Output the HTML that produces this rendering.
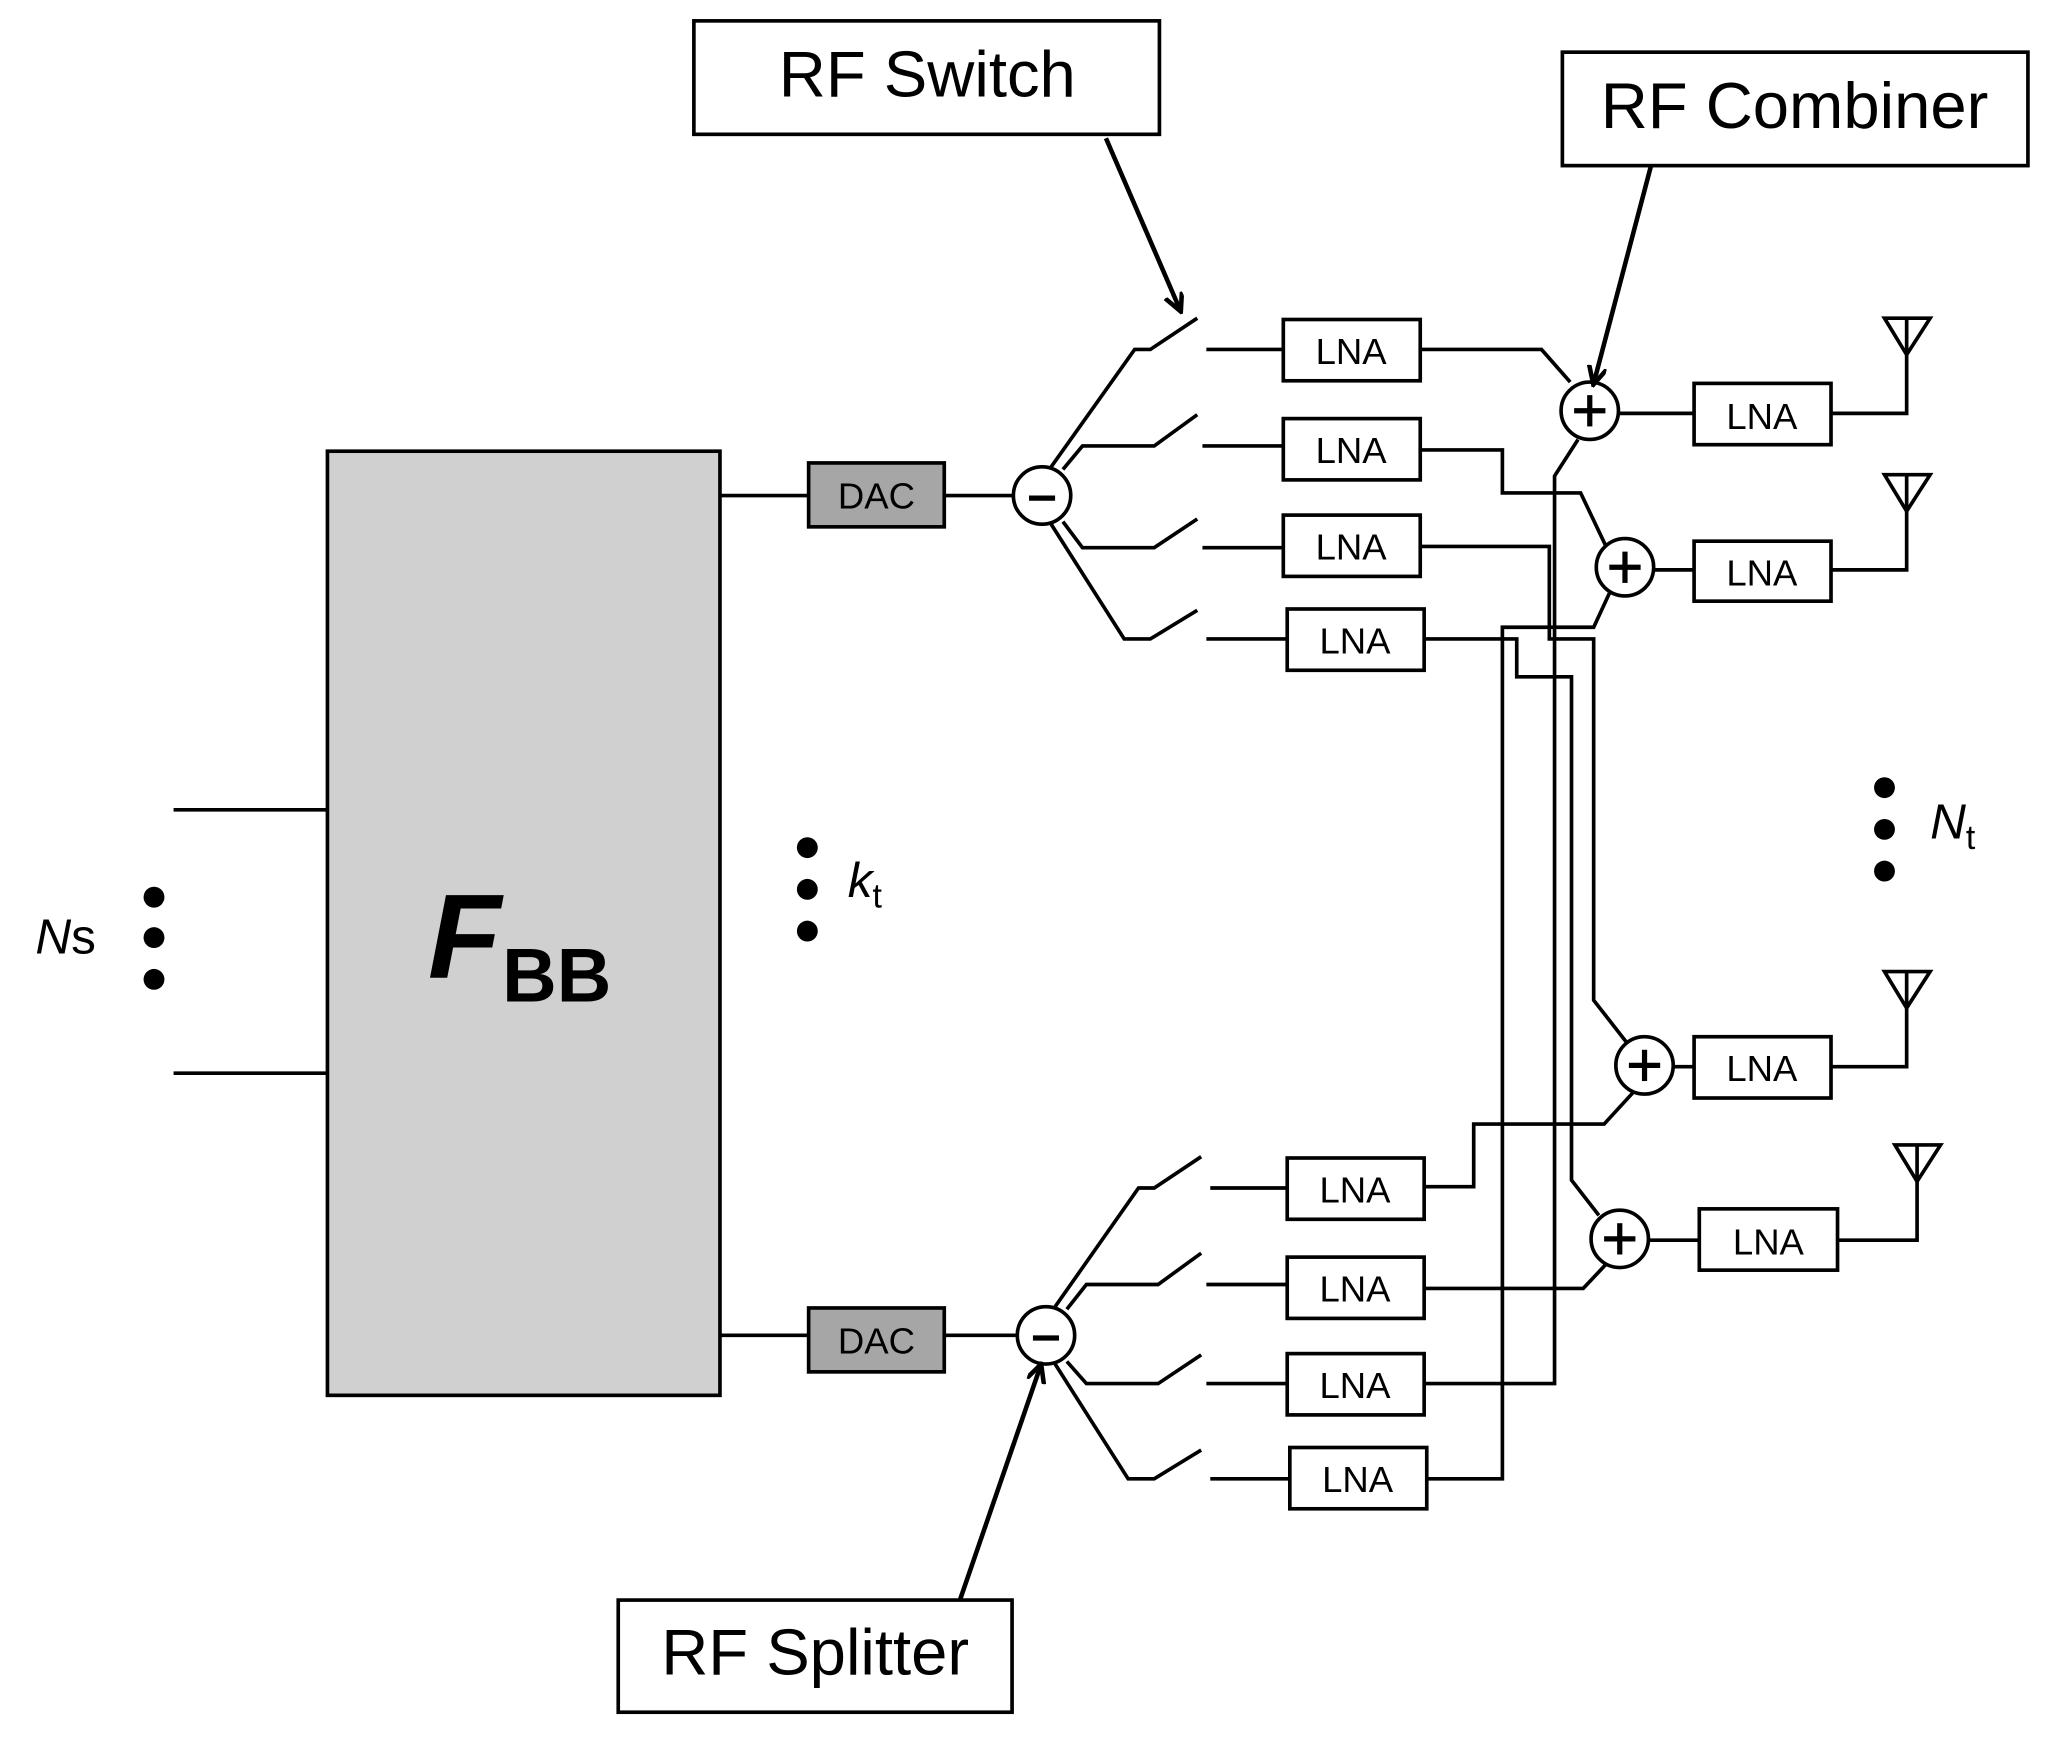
<!DOCTYPE html>
<html><head><style>html,body{margin:0;padding:0;background:#fff}svg{display:block}</style></head><body>
<svg width="2045" height="1737" viewBox="0 0 1568 1332" xmlns="http://www.w3.org/2000/svg" font-family="Liberation Sans, sans-serif">
<defs><marker id="ah" markerWidth="16" markerHeight="16" refX="13" refY="7" orient="auto" markerUnits="userSpaceOnUse"><path d="M0,0 L14,7 L0,14" fill="none" stroke="#000" stroke-width="3.5"/></marker></defs>
<g stroke="#000" stroke-width="2.8" fill="none">
<rect x="251" y="346" width="301" height="724" fill="#d0d0d0"/>
<line x1="133" y1="621" x2="251" y2="621"/><line x1="133" y1="823" x2="251" y2="823"/>
<rect x="620" y="355" width="104" height="49" fill="#a6a6a6"/>
<rect x="620" y="1003" width="104" height="49" fill="#a6a6a6"/>
<line x1="552" y1="380" x2="620" y2="380"/><line x1="724" y1="380" x2="777" y2="380"/>
<line x1="552" y1="1024" x2="620" y2="1024"/><line x1="724" y1="1024" x2="780" y2="1024"/>
<polyline points="806,358 870,268 882,268 918,244"/><line x1="925" y1="268" x2="984" y2="268"/>
<polyline points="815,360 830,342 885,342 918,318"/><line x1="922" y1="342" x2="984" y2="342"/>
<polyline points="815,400 830,420 885,420 918,398"/><line x1="922" y1="420" x2="984" y2="420"/>
<polyline points="806,402 862,490 882,490 918,468"/><line x1="925" y1="490" x2="987" y2="490"/>
<polyline points="809,1002 873,911 885,911 921,887"/><line x1="928" y1="911" x2="987" y2="911"/>
<polyline points="818,1004 833,985 888,985 921,961"/><line x1="925" y1="985" x2="987" y2="985"/>
<polyline points="818,1044 833,1061 888,1061 921,1039"/><line x1="925" y1="1061" x2="987" y2="1061"/>
<polyline points="809,1046 865,1134 885,1134 921,1112"/><line x1="928" y1="1134" x2="989" y2="1134"/>
<rect x="984" y="245" width="105" height="47"/><rect x="984" y="321" width="105" height="47"/>
<rect x="984" y="395" width="105" height="47"/><rect x="987" y="467" width="105" height="47"/>
<rect x="987" y="888" width="105" height="47"/><rect x="987" y="964" width="105" height="47"/>
<rect x="987" y="1038" width="105" height="47"/><rect x="989" y="1110" width="105" height="47"/>
<rect x="1299" y="294" width="105" height="47"/><rect x="1299" y="415" width="105" height="46"/>
<rect x="1299" y="795" width="105" height="47"/><rect x="1303" y="927" width="106" height="47"/>
<polyline points="1089,268 1182,268 1204,293"/>
<polyline points="1089,345 1152,345 1152,378 1212,378 1231,418"/>
<polyline points="1089,419 1188,419 1188,490 1222,490 1222,767 1247,799"/>
<polyline points="1092,490 1163,490 1163,519 1205,519 1205,905 1226,932"/>
<polyline points="1210,337 1192,365 1192,1061 1092,1061"/>
<polyline points="1234,455 1222,481 1152,481 1152,1134 1094,1134"/>
<polyline points="1252,838 1230,862 1130,862 1130,910 1092,910"/>
<polyline points="1231,970 1214,988 1092,988"/>
<circle cx="1219" cy="315" r="22" fill="#fff"/><circle cx="1246" cy="435" r="22" fill="#fff"/>
<circle cx="1261" cy="817" r="22" fill="#fff"/><circle cx="1242" cy="950" r="22" fill="#fff"/>
<line x1="1241" y1="317" x2="1299" y2="317"/><line x1="1268" y1="437" x2="1299" y2="437"/>
<line x1="1283" y1="818" x2="1299" y2="818"/><line x1="1264" y1="951" x2="1303" y2="951"/>
<polyline points="1404,317 1462,317 1462,244"/><polygon points="1445,244 1480,244 1462,272"/>
<polyline points="1404,437 1462,437 1462,364"/><polygon points="1445,364 1480,364 1462,392"/>
<polyline points="1404,818 1462,818 1462,745"/><polygon points="1445,745 1480,745 1462,773"/>
<polyline points="1409,951 1470,951 1470,878"/><polygon points="1453,878 1488,878 1470,906"/>
<circle cx="799" cy="380" r="22" fill="#fff"/><circle cx="802" cy="1024" r="22" fill="#fff"/>
<rect x="532" y="16" width="357" height="87"/><rect x="1198" y="40" width="357" height="87"/><rect x="474" y="1227" width="302" height="86"/>
</g>
<g stroke="#000" stroke-width="3.5" fill="none">
<line x1="848" y1="106" x2="905" y2="238" marker-end="url(#ah)"/>
<line x1="1266" y1="127" x2="1222" y2="294" marker-end="url(#ah)"/>
<line x1="736" y1="1227" x2="798" y2="1047" marker-end="url(#ah)"/>
</g>
<g stroke="#000" stroke-width="4">
<line x1="789" y1="382" x2="809" y2="382"/><line x1="792" y1="1026" x2="812" y2="1026"/>
<line x1="1207" y1="315" x2="1231" y2="315"/><line x1="1219" y1="303" x2="1219" y2="327"/>
<line x1="1234" y1="435" x2="1258" y2="435"/><line x1="1246" y1="423" x2="1246" y2="447"/>
<line x1="1249" y1="817" x2="1273" y2="817"/><line x1="1261" y1="805" x2="1261" y2="829"/>
<line x1="1230" y1="950" x2="1254" y2="950"/><line x1="1242" y1="938" x2="1242" y2="962"/>
</g>
<g fill="#000">
<circle cx="118" cy="688" r="8"/><circle cx="118" cy="719" r="8"/><circle cx="118" cy="751" r="8"/>
<circle cx="619" cy="650" r="8"/><circle cx="619" cy="682" r="8"/><circle cx="619" cy="714" r="8"/>
<circle cx="1445" cy="604" r="8"/><circle cx="1445" cy="636" r="8"/><circle cx="1445" cy="668" r="8"/>
</g>
<g font-size="28" text-anchor="middle" fill="#000">
<text x="672" y="390">DAC</text><text x="672" y="1038">DAC</text>
<text x="1036" y="279">LNA</text><text x="1036" y="355">LNA</text><text x="1036" y="429">LNA</text><text x="1039" y="501">LNA</text>
<text x="1039" y="922">LNA</text><text x="1039" y="998">LNA</text><text x="1039" y="1072">LNA</text><text x="1041" y="1144">LNA</text>
<text x="1351" y="329">LNA</text><text x="1351" y="449">LNA</text><text x="1351" y="829">LNA</text><text x="1356" y="962">LNA</text>
</g>
<g font-size="50" text-anchor="middle">
<text x="711" y="74">RF Switch</text><text x="1376" y="98">RF Combiner</text><text x="625" y="1284">RF Splitter</text>
</g>
<text x="328" y="750" font-size="92" font-weight="bold" font-style="italic">F</text>
<text x="385" y="768" font-size="58" font-weight="bold">BB</text>
<text x="27" y="731" font-size="38"><tspan font-style="italic">N</tspan>s</text>
<text x="650" y="688" font-size="38"><tspan font-style="italic">k</tspan><tspan font-size="26" dy="8">t</tspan></text>
<text x="1480" y="643" font-size="38"><tspan font-style="italic">N</tspan><tspan font-size="26" dy="8">t</tspan></text>
</svg>
</body></html>
